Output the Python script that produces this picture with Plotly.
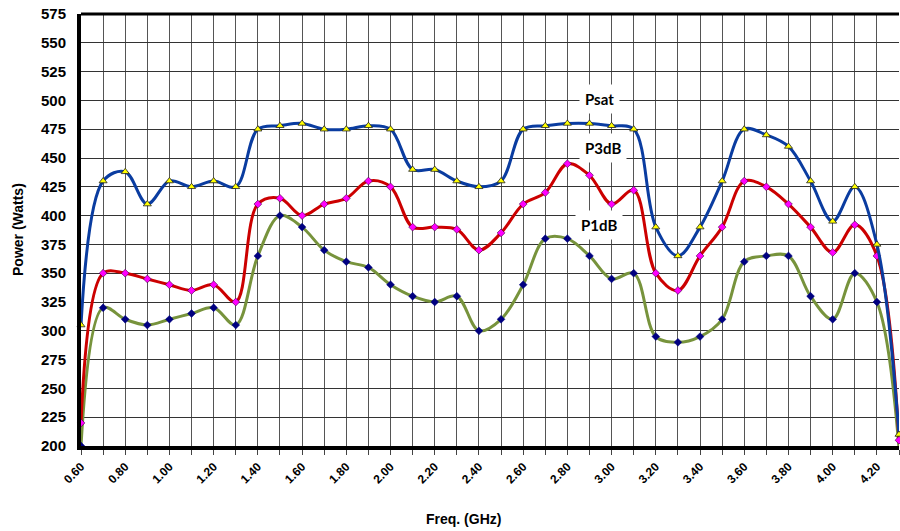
import plotly.graph_objects as go

freq = [0.60, 0.70, 0.80, 0.90, 1.00, 1.10, 1.20, 1.30, 1.40, 1.50,
        1.60, 1.70, 1.80, 1.90, 2.00, 2.10, 2.20, 2.30, 2.40, 2.50,
        2.60, 2.70, 2.80, 2.90, 3.00, 3.10, 3.20, 3.30, 3.40, 3.50,
        3.60, 3.70, 3.80, 3.90, 4.00, 4.10, 4.20, 4.30]

psat = [305, 430, 438, 410, 430, 425, 430, 425, 475, 478,
        480, 475, 475, 478, 475, 440, 440, 430, 425, 430,
        475, 478, 480, 480, 478, 475, 390, 365, 390, 430,
        475, 470, 460, 430, 395, 425, 375, 210]

p3db = [220, 350, 350, 345, 340, 335, 340, 325, 410, 415,
        400, 410, 415, 430, 425, 390, 390, 388, 370, 385,
        410, 420, 445, 435, 410, 422, 350, 335, 365, 390,
        430, 425, 410, 390, 368, 392, 365, 205]

p1db = [200, 320, 310, 305, 310, 315, 320, 305, 365, 400,
        390, 370, 360, 355, 340, 330, 325, 330, 300, 310,
        340, 380, 380, 365, 345, 350, 295, 290, 295, 310,
        360, 365, 365, 330, 310, 350, 325, 198]

tick_text = [f"{f:.2f}" if i % 2 == 0 and f < 4.25 else "" for i, f in enumerate(freq)]
y_ticks = list(range(200, 576, 25))

fig = go.Figure()

fig.add_trace(go.Scatter(
    x=freq, y=p1db, mode="lines+markers", name="P1dB",
    line=dict(color="#77933C", width=3, shape="spline", smoothing=1),
    marker=dict(symbol="diamond", size=6, color="#000080",
                line=dict(color="#000080", width=0.5)),
    cliponaxis=False))
fig.add_trace(go.Scatter(
    x=freq, y=p3db, mode="lines+markers", name="P3dB",
    line=dict(color="#CC0000", width=3, shape="spline", smoothing=1),
    marker=dict(symbol="diamond", size=6, color="#FF00FF",
                line=dict(color="#400040", width=0.6)),
    cliponaxis=False))
fig.add_trace(go.Scatter(
    x=freq, y=psat, mode="lines+markers", name="Psat",
    line=dict(color="#0A3CA0", width=3, shape="spline", smoothing=1),
    marker=dict(symbol="triangle-up", size=7, color="#FFFF00",
                line=dict(color="#222222", width=0.8)),
    cliponaxis=False))

annots = [("Psat", 3.04, 501), ("P3dB", 3.07, 459), ("P1dB", 3.05, 392)]
for txt, ax_, ay_ in annots:
    fig.add_annotation(x=ax_, y=ay_, text=f"<b>{txt}</b>", showarrow=False,
                       font=dict(family="Lato, Open Sans, sans-serif", size=15, color="black"),
                       bgcolor="white", borderpad=5, xanchor="right")

fig.add_annotation(xref="paper", yref="paper", x=0.467, y=0, yshift=-73,
                   text="<b>Freq. (GHz)</b>", showarrow=False,
                   font=dict(family="Liberation Sans, Arial", size=14, color="black"),
                   xanchor="center", yanchor="middle")
fig.add_annotation(xref="paper", yref="paper", x=0, xshift=-63, y=0.5,
                   text="<b>Power (Watts)</b>", showarrow=False, textangle=-90,
                   font=dict(family="Liberation Sans, Arial", size=14, color="black"),
                   xanchor="center", yanchor="middle")

fig.update_layout(
    width=900, height=531,
    margin=dict(l=81, r=1, t=14, b=85),
    paper_bgcolor="white", plot_bgcolor="white",
    showlegend=False,
    font=dict(family="Liberation Sans, Arial", color="black"),
    xaxis=dict(
        range=[0.6, 4.3], tickmode="array", tickvals=freq, ticktext=tick_text,
        tickangle=-45, tickfont=dict(size=12, family="Liberation Sans, Arial", weight="bold"),
        showgrid=True, gridcolor="#555555", gridwidth=1,
        ticks="outside", ticklen=5, tickcolor="#444444",
        showline=True, linecolor="black", linewidth=4, mirror=False,
        zeroline=False, automargin=False,
    ),
    yaxis=dict(
        range=[200, 575], tickmode="array", tickvals=y_ticks,
        tickfont=dict(size=15, family="Liberation Sans, Arial", weight="bold"),
        showgrid=True, gridcolor="#333333", gridwidth=1,
        showline=True, linecolor="black", linewidth=4,
        zeroline=False, ticks="", ticklen=0, automargin=False,
        ticklabelstandoff=8,
    ),
)

fig.add_shape(type="line", xref="paper", yref="paper", x0=0, x1=1, y0=1, y1=1,
              line=dict(color="black", width=3))

fig.write_html("out.html", config={"displayModeBar": False},
               post_script="document.body.style.margin='0';")
